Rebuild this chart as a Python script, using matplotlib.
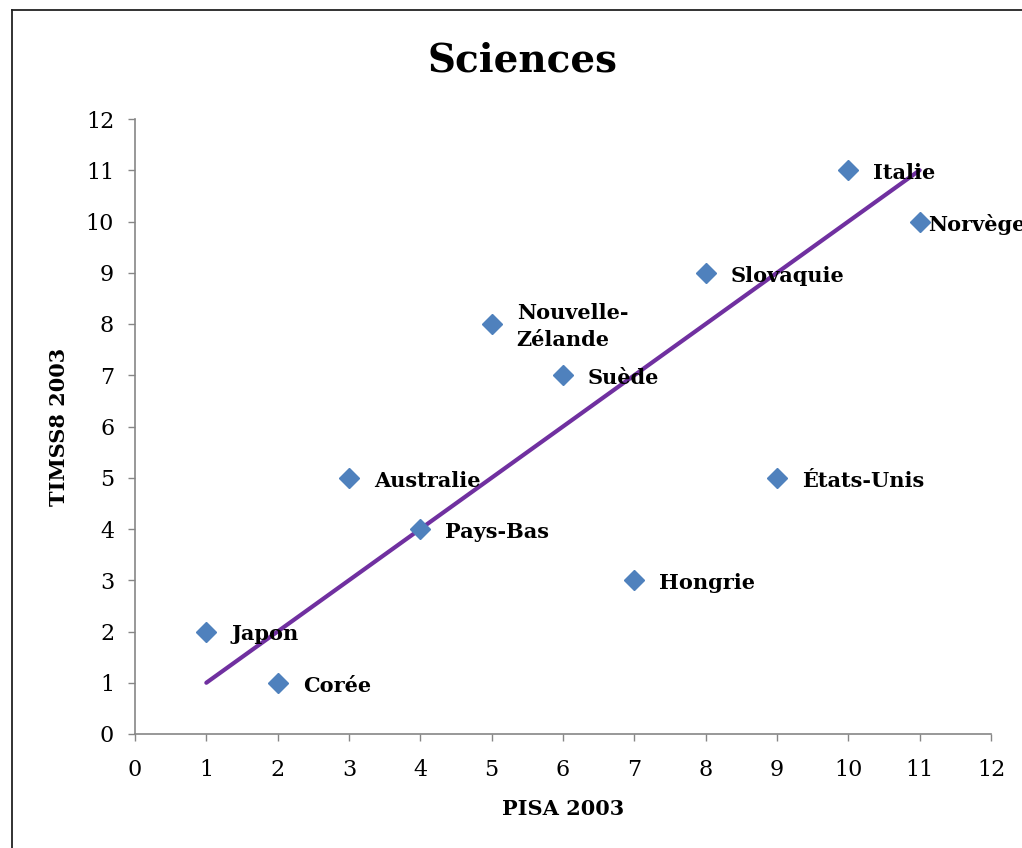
import matplotlib
matplotlib.use("Agg")
import matplotlib.pyplot as plt
from matplotlib.lines import Line2D

# PISA 2003 rank vs TIMSS8 2003 rank, sciences
countries = ["Japon", "Corée", "Australie", "Pays-Bas", "Nouvelle-\nZélande", "Suède",
             "Hongrie", "Slovaquie", "États-Unis", "Italie", "Norvège"]
pisa = [1, 2, 3, 4, 5, 6, 7, 8, 9, 10, 11]
timss = [2, 1, 5, 4, 8, 7, 3, 9, 5, 11, 10]
trend_x = [1, 11]
trend_y = [1, 11]
ticks = list(range(0, 13))

plt.rcParams["font.family"] = ["DejaVu Serif"]
fig = plt.figure(figsize=(10.22, 8.48), dpi=100)
ax = fig.add_axes([135/1022, 1-734/848, (991-135)/1022, (734-119)/848])

ax.plot(trend_x, trend_y, color="#7030A0", lw=3.0, solid_capstyle="round", zorder=2)
ax.plot(pisa, timss, ls="none", marker="D", ms=10.5, color="#4F81BD",
        markeredgecolor="#4F81BD", zorder=3)

for name, x, y in zip(countries, pisa, timss):
    dx = 6 if name == "Norvège" else 18
    ax.annotate(name, (x, y), xytext=(dx, -2), textcoords="offset points",
                ha="left", va="center", fontsize=15, fontweight="bold",
                linespacing=1.45, zorder=4, annotation_clip=False)

ax.set_xlim(0, 12)
ax.set_ylim(0, 12)
ax.set_xticks(ticks)
ax.set_yticks(ticks)
ax.tick_params(labelsize=16, length=5, width=1, color="#868686")
ax.tick_params(axis="x", pad=13)
ax.tick_params(axis="y", pad=10)
for s in ["top", "right"]:
    ax.spines[s].set_visible(False)
for s in ["left", "bottom"]:
    ax.spines[s].set_color("#868686")
    ax.spines[s].set_linewidth(1.2)

ax.set_xlabel("PISA 2003", fontsize=15, fontweight="bold", labelpad=13)
ax.set_ylabel("TIMSS8 2003", fontsize=15, fontweight="bold", labelpad=12)
fig.text(522/1022, 1-60/848, "Sciences", ha="center", va="center",
         fontsize=28, fontweight="bold")

# outer chart frame (cut off at right and bottom edges)
fig.add_artist(Line2D([12/1022, 12/1022], [0, 1-10/848], color="#222222", lw=1.3))
fig.add_artist(Line2D([12/1022, 1], [1-10/848, 1-10/848], color="#222222", lw=1.3))

fig.savefig("out.png", dpi=100)
